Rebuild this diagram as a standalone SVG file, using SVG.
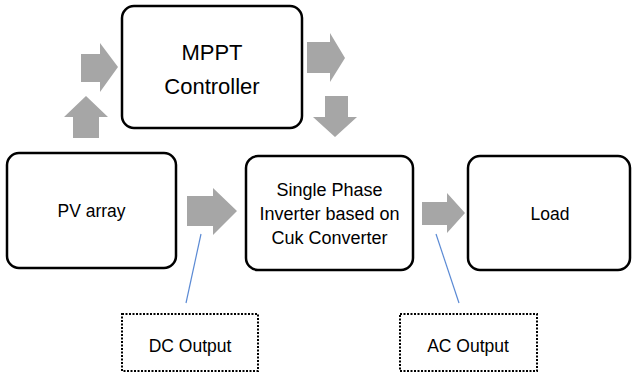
<svg xmlns="http://www.w3.org/2000/svg" width="633" height="376" viewBox="0 0 633 376">
<style>
.box{fill:#fff;stroke:#000;stroke-width:2.5}
.note{fill:#fff;stroke:#000;stroke-width:2;stroke-dasharray:2 1.5}
.arr{fill:#a6a6a6}
.lead{stroke:#5b8ad4;stroke-width:1.2;fill:none}
text{font-family:"Liberation Sans",Arial,sans-serif;fill:#000;text-anchor:middle}
</style>
<rect width="633" height="376" fill="#fff"/>
<g id="mppt"><rect class="box" x="122" y="6" width="180" height="122" rx="12"/>
<text x="212" y="60" font-size="22">MPPT</text><text x="212" y="94" font-size="22">Controller</text></g>
<g id="pv"><rect class="box" x="7" y="153" width="169" height="115" rx="12"/>
<text x="91.5" y="217" font-size="17.5">PV array</text></g>
<g id="inverter"><rect class="box" x="246" y="156" width="167" height="114" rx="12"/>
<text x="329.5" y="196" font-size="18">Single Phase</text><text x="329.5" y="220" font-size="18">Inverter based on</text><text x="329.5" y="244" font-size="18">Cuk Converter</text></g>
<g id="load"><rect class="box" x="468" y="156" width="162" height="114" rx="12"/>
<text x="550" y="220" font-size="17.5">Load</text></g>
<g id="dc"><rect class="note" x="122" y="314" width="136" height="57"/>
<text x="190" y="352" font-size="17.5">DC Output</text></g>
<g id="ac"><rect class="note" x="400" y="314" width="137" height="57"/>
<text x="468" y="352" font-size="17.5">AC Output</text></g>
<g id="connectors">
<polygon class="arr" points="73,138 73,117 64,117 86,96 108,117 99,117 99,138"/>
<polygon class="arr" points="81,54 100,54 100,43 118,67 100,92 100,82 81,82"/>
<polygon class="arr" points="307,42 330,42 330,33 345,58 330,82 330,73 307,73"/>
<polygon class="arr" points="325,96 348,96 348,117 357,117 335,137 313,117 325,117"/>
<polygon class="arr" points="187,196 213,196 213,188 237,211 213,235 213,226 187,226"/>
<polygon class="arr" points="422,202 447,202 447,193 465,213 447,233 447,225 422,225"/>
<line class="lead" x1="201" y1="234" x2="186" y2="303"/>
<line class="lead" x1="436" y1="234" x2="459" y2="303"/>
</g>
</svg>
